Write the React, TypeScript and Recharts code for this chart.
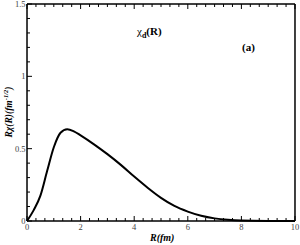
import { LineChart, Line, XAxis, YAxis } from "recharts";

// R in fm, and R*chi_d(R)
const rValues = [0, 0.25, 0.5, 0.75, 1, 1.25, 1.5, 1.75, 2, 2.5, 3, 3.5, 4, 4.5, 5, 5.5, 6, 6.5, 7, 7.5, 8, 9, 10];
const chiValues = [0, 0.075, 0.175, 0.345, 0.51, 0.61, 0.635, 0.62, 0.592, 0.53, 0.462, 0.388, 0.307, 0.23, 0.16, 0.104, 0.065, 0.036, 0.018, 0.008, 0.003, 0.0005, 0];

const xMajorTicks = [0, 2, 4, 6, 8, 10];
const yMajorTicks = [0, 0.5, 1, 1.5];
const X_MINOR_PER_MAJOR = 6;
const Y_MINOR_PER_MAJOR = 5;

const data = rValues.map((r, i) => ({ r, chi: chiValues[i] }));

function withMinor(majors: number[], per: number): number[] {
  const out: number[] = [];
  for (let i = 0; i < majors.length - 1; i++) {
    const step = (majors[i + 1] - majors[i]) / per;
    for (let k = 0; k < per; k++) out.push(majors[i] + k * step);
  }
  out.push(majors[majors.length - 1]);
  return out;
}

const xTicks = withMinor(xMajorTicks, X_MINOR_PER_MAJOR);
const yTicks = withMinor(yMajorTicks, Y_MINOR_PER_MAJOR);

const isMajor = (v: number, majors: number[]) => majors.some((m) => Math.abs(m - v) < 1e-6);

const FONT = "'Liberation Serif', 'DejaVu Serif', serif";
const MAJOR = 5;
const MINOR = 3;
// axes need a non-zero size to be drawn at all
const THIN = 0.01;

function makeTick(side: "bottom" | "top" | "left" | "right") {
  return (props: any) => {
    const { x, y, payload } = props;
    const v = payload.value as number;
    const majors = side === "bottom" || side === "top" ? xMajorTicks : yMajorTicks;
    const len = isMajor(v, majors) ? MAJOR : MINOR;
    let line;
    if (side === "bottom") line = <line x1={x} x2={x} y1={y} y2={y - len} stroke="#000" strokeWidth={1} />;
    else if (side === "top") line = <line x1={x} x2={x} y1={y} y2={y + len} stroke="#000" strokeWidth={1} />;
    else if (side === "left") line = <line x1={x} x2={x + len} y1={y} y2={y} stroke="#000" strokeWidth={1} />;
    else line = <line x1={x} x2={x - len} y1={y} y2={y} stroke="#000" strokeWidth={1} />;
    let label = null;
    if (isMajor(v, majors) && side === "bottom") {
      label = (
        <text x={x} y={y + 9} textAnchor="middle" fontSize={8.5} fontFamily={FONT} fill="#444">
          {Number(v.toFixed(3))}
        </text>
      );
    } else if (isMajor(v, majors) && side === "left") {
      label = (
        <text x={x - 1.5} y={y + 3} textAnchor="end" fontSize={8.5} fontFamily={FONT} fill="#444">
          {Number(v.toFixed(3))}
        </text>
      );
    }
    return (
      <g>
        {line}
        {label}
      </g>
    );
  };
}

const axisLine = { stroke: "#000", strokeWidth: 1.5 };

export default function App() {
  return (
    <div style={{ position: "absolute", left: 0, top: 0, width: 300, height: 245, background: "#fff" }}>
      <LineChart width={300} height={245} data={data} margin={{ top: 4, right: 5, bottom: 24, left: 27 }}>
        <XAxis xAxisId="b" orientation="bottom" type="number" dataKey="r" domain={[0, 10]} ticks={xTicks}
          interval={0} height={THIN} tickSize={0} tickMargin={0} tickLine={false} axisLine={axisLine} tick={makeTick("bottom")} />
        <XAxis xAxisId="t" orientation="top" type="number" dataKey="r" domain={[0, 10]} ticks={xTicks}
          interval={0} height={THIN} tickSize={0} tickMargin={0} tickLine={false} axisLine={axisLine} tick={makeTick("top")} />
        <YAxis yAxisId="l" orientation="left" type="number" domain={[0, 1.5]} ticks={yTicks}
          interval={0} width={THIN} tickSize={0} tickMargin={0} tickLine={false} axisLine={axisLine} tick={makeTick("left")} />
        <YAxis yAxisId="r" orientation="right" type="number" domain={[0, 1.5]} ticks={yTicks}
          interval={0} width={THIN} tickSize={0} tickMargin={0} tickLine={false} axisLine={axisLine} tick={makeTick("right")} />
        <Line xAxisId="b" yAxisId="l" type="monotone" dataKey="chi" stroke="#000" strokeWidth={2}
          dot={false} isAnimationActive={false} />
      </LineChart>
      <div style={{ position: "absolute", left: 137, top: 25, fontFamily: FONT, fontSize: 11, fontWeight: "bold", whiteSpace: "nowrap" }}>
        <span style={{ fontWeight: "normal" }}>χ</span>
        <sub style={{ fontSize: 8 }}>d</sub>(R)
      </div>
      <div style={{ position: "absolute", left: 242, top: 41, fontFamily: FONT, fontSize: 11, fontWeight: "bold" }}>(a)</div>
      <div style={{ position: "absolute", left: 150, top: 232, fontFamily: FONT, fontSize: 10, fontWeight: "bold", fontStyle: "italic" }}>
        R(fm)
      </div>
      <div style={{
        position: "absolute", left: 8, top: 112, transform: "translate(-50%, -50%) rotate(-90deg)",
        fontFamily: FONT, fontSize: 9.5, fontWeight: "bold", fontStyle: "italic", whiteSpace: "nowrap",
      }}>
        Rχ(R)(fm<sup style={{ fontSize: 6.5 }}>-1/2</sup>)
      </div>
    </div>
  );
}
